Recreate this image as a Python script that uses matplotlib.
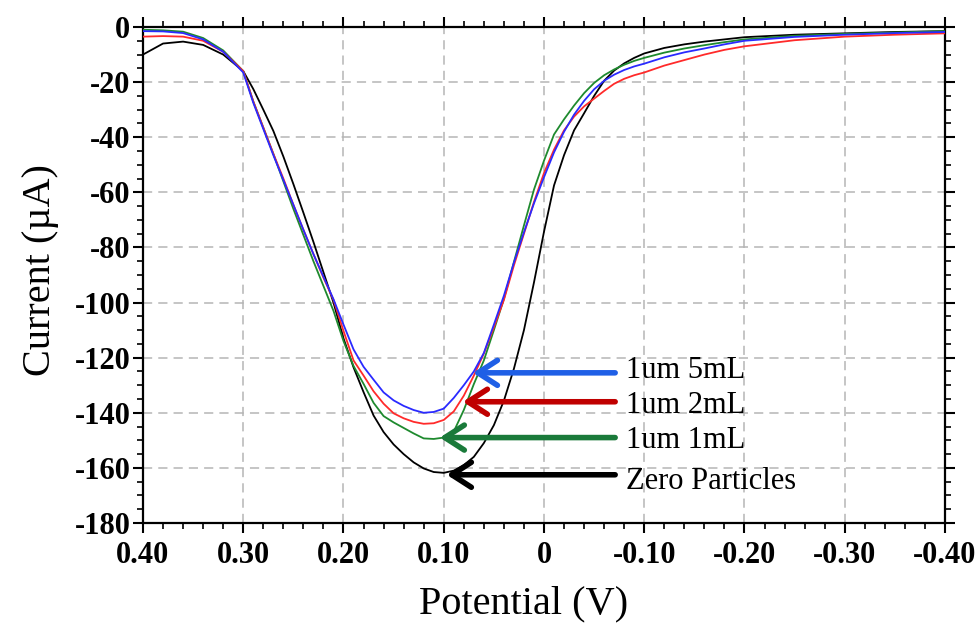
import matplotlib
matplotlib.use("Agg")
import matplotlib.pyplot as plt
from matplotlib.ticker import MultipleLocator

# ---------------- data ----------------
potential = [0.40, 0.38, 0.36, 0.34, 0.32, 0.30, 0.29, 0.28, 0.27, 0.26,
             0.25, 0.24, 0.23, 0.22, 0.21, 0.20, 0.19, 0.18, 0.17, 0.16,
             0.15, 0.14, 0.13, 0.12, 0.11, 0.10, 0.09, 0.08, 0.07, 0.06,
             0.05, 0.04, 0.03, 0.02, 0.01, 0.00, -0.01, -0.02, -0.03, -0.04,
             -0.05, -0.06, -0.07, -0.08, -0.09, -0.10, -0.12, -0.14, -0.16, -0.18,
             -0.20, -0.25, -0.30, -0.35, -0.40]

zero_particles = [-10, -6, -5.3, -6.5, -10, -16, -22.5, -30, -37.7, -47,
                  -57, -67.4, -78, -89, -100, -113, -123.5, -132.5, -141, -147,
                  -151.5, -155, -158, -160.2, -161.5, -161.8, -161, -159, -156, -151,
                  -144.5, -135.6, -124, -110, -92.7, -74.3, -57.5, -46.5, -37.5, -31.3,
                  -25, -19.5, -15.8, -13.2, -11.2, -9.6, -7.6, -6.3, -5.3, -4.5,
                  -3.7, -2.8, -2.3, -1.8, -1.5]

um1_1mL = [-1, -1.2, -1.7, -4, -8.5, -16, -27, -36.5, -46, -56,
           -66, -75.5, -85, -94, -103, -114, -123, -129.5, -136.4, -141.2,
           -143.5, -145.5, -147.5, -149.3, -149.5, -149, -146.8, -139, -129.6, -121,
           -110, -98.7, -85.3, -72, -59, -48.5, -39, -33.5, -28.5, -24,
           -20.3, -17.5, -15.4, -13.7, -12.3, -11.2, -9.3, -7.8, -6.6, -5.5,
           -4.5, -3.2, -2.5, -2, -1.5]

um1_2mL = [-3.5, -3.3, -3.5, -5, -9, -16, -27, -36.5, -46, -55,
           -64.5, -73.6, -82.4, -91, -99, -110.3, -121, -126.5, -132.2, -136.7,
           -140.2, -142, -143.3, -144, -143.8, -142.6, -139.5, -133.8, -126.5, -118.5,
           -109, -99, -86.5, -75, -63.5, -53, -44.5, -37.5, -32.5, -28.8,
           -26, -23.2, -20.6, -18.8, -17.5, -16.5, -14, -12, -10, -8.3,
           -7, -4.8, -3.5, -2.8, -2.3]

um1_5mL = [-1.5, -1.6, -2.2, -4.5, -9, -16.5, -27.5, -37, -46.5, -55.5,
           -64.5, -73.6, -82.4, -90.6, -98.8, -108, -117, -123.3, -128, -132.6,
           -135.5, -137.5, -139, -140, -139.7, -138.5, -134.6, -130, -125, -118.3,
           -108, -97.5, -85.5, -74.5, -64, -54.5, -45.5, -38, -31.8, -26.8,
           -22.6, -19.5, -17.3, -15.6, -14.3, -13.3, -11, -9.2, -7.8, -6.3,
           -5, -3.6, -2.8, -2.2, -1.8]

labels = ["1um 5mL", "1um 2mL", "1um 1mL", "Zero Particles"]
arrow_tip_x = [0.071, 0.081, 0.104, 0.097]
arrow_tip_y = [-125.5, -136, -149, -162.5]

x_ticks = [0.40, 0.30, 0.20, 0.10, 0.0, -0.10, -0.20, -0.30, -0.40]
x_tick_labels = ["0.40", "0.30", "0.20", "0.10", "0", "-0.10", "-0.20", "-0.30", "-0.40"]
y_ticks = [0, -20, -40, -60, -80, -100, -120, -140, -160, -180]
y_tick_labels = ["0", "-20", "-40", "-60", "-80", "-100", "-120", "-140", "-160", "-180"]

# ---------------- styling ----------------
plt.rcParams["font.family"] = ["Liberation Serif", "DejaVu Serif"]

fig = plt.figure(figsize=(9.79, 6.24), dpi=100)
ax = fig.add_axes([143 / 979, 1 - 523 / 624, (945 - 143) / 979, (523 - 27) / 624])

series = [
    (zero_particles, "#000000"),
    (um1_1mL, "#1e8a2e"),
    (um1_2mL, "#ff2a2a"),
    (um1_5mL, "#2a2aff"),
]
for vals, col in series:
    ax.plot(potential, vals, color=col, lw=1.3, solid_joinstyle="round",
            solid_capstyle="round", zorder=3)

ax.set_xlim(0.40, -0.40)
ax.set_ylim(-180, 0)
ax.set_xticks(x_ticks)
ax.set_xticklabels(x_tick_labels)
ax.set_yticks(y_ticks)
ax.set_yticklabels(y_tick_labels)
ax.xaxis.set_minor_locator(MultipleLocator(0.02))
ax.yaxis.set_minor_locator(MultipleLocator(5))

ax.grid(True, which="major", color="#b5b5b5", linestyle=(0, (6, 4)), lw=1.1, zorder=0)

for s in ax.spines.values():
    s.set_linewidth(1.6)
    s.set_color("black")

ax.tick_params(which="both", direction="out", top=True, right=True,
               labeltop=False, labelright=False, color="black")
ax.tick_params(which="major", length=7, width=1.5)
ax.tick_params(axis="x", which="major", pad=6)
ax.tick_params(axis="y", which="major", pad=2)
ax.tick_params(which="minor", length=4, width=1.2)
for lab in ax.get_xticklabels() + ax.get_yticklabels():
    lab.set_fontweight("bold")
    lab.set_fontsize(22)

ax.set_xlabel("Potential (V)", fontsize=29)
ax.set_ylabel("Current (\u00b5A)", fontsize=29)
ax.xaxis.set_label_coords(0.474, -0.125)
ax.yaxis.set_label_coords(-0.105, 0.51)

arrow_colors = ["#1f5fe6", "#c00000", "#1a7a3a", "#000000"]
text_y = [-124.5, -137.5, -150, -165]
for lab, tx, ty, col, yy in zip(labels, arrow_tip_x, arrow_tip_y, arrow_colors, text_y):
    ax.annotate("", xy=(tx, ty), xytext=(-0.071, ty),
                arrowprops=dict(arrowstyle="->,head_length=1.4,head_width=0.9",
                                color=col, lw=4, shrinkA=0, shrinkB=0), zorder=5)
    ax.text(-0.082, yy, lab, fontsize=22, va="center", ha="left", zorder=6)

fig.savefig("out.png", dpi=100)
